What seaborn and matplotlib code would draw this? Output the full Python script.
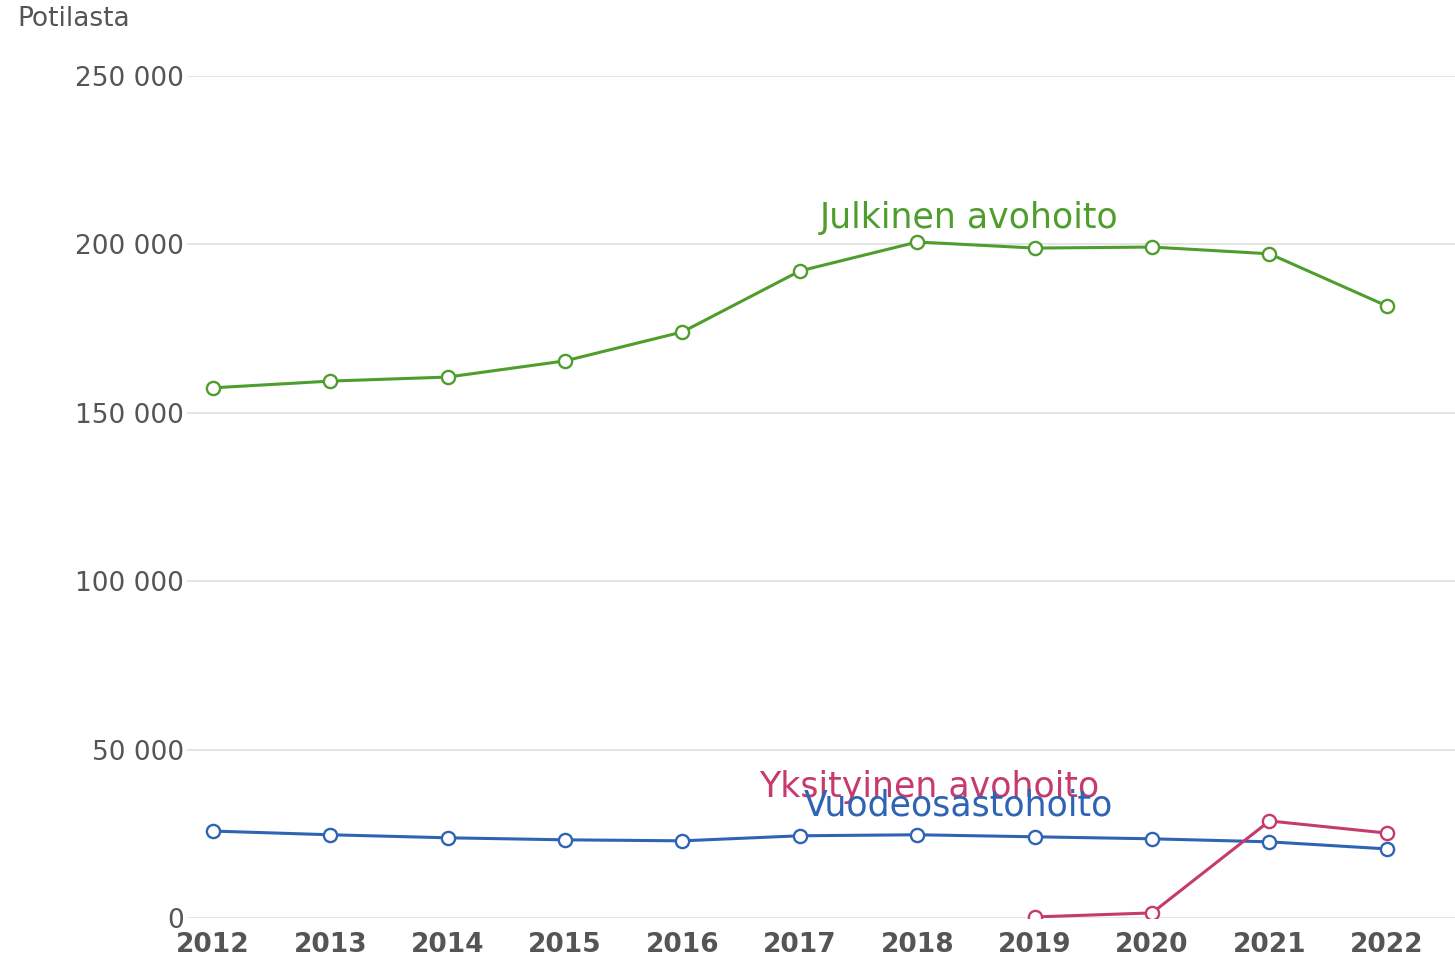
import pandas as pd
import matplotlib
matplotlib.use("Agg")
import matplotlib.pyplot as plt
import matplotlib.ticker as mticker
import seaborn as sns

# Data
years = list(range(2012, 2023))
julkinen = [157400, 159400, 160600, 165400, 174000, 192100, 200700, 198900, 199200, 197200, 181700]
vuodeosasto = [25800, 24700, 23800, 23200, 22900, 24400, 24700, 24100, 23500, 22600, 20500]
yks_years = [2019, 2020, 2021, 2022]
yksityinen = [300, 1500, 28800, 25200]

series_names = ["Julkinen avohoito", "Vuodeosastohoito", "Yksityinen avohoito"]
COLORS = {"Julkinen avohoito": "#4f9d2d",
          "Vuodeosastohoito": "#2f63b3",
          "Yksityinen avohoito": "#c63a6e"}

df = pd.concat([
    pd.DataFrame({"Vuosi": years, "Potilaat": julkinen, "Sarja": series_names[0]}),
    pd.DataFrame({"Vuosi": years, "Potilaat": vuodeosasto, "Sarja": series_names[1]}),
    pd.DataFrame({"Vuosi": yks_years, "Potilaat": yksityinen, "Sarja": series_names[2]}),
])

sns.set_theme(style="white")
plt.rcParams["font.family"] = ["DejaVu Sans"]

fig = plt.figure(figsize=(14.55, 9.58), dpi=100)
ax = fig.add_axes([0.1285, 0.0418, 0.8715, 0.8789])

for name in series_names:
    sub = df[df["Sarja"] == name]
    sns.lineplot(data=sub, x="Vuosi", y="Potilaat", color=COLORS[name],
                 linewidth=2.2, marker="o", markersize=9.5,
                 markerfacecolor="white", markeredgecolor=COLORS[name],
                 markeredgewidth=1.7, ax=ax, legend=False, zorder=3)

# series labels placed in data coordinates
ax.text(2018.44, 207800, "Julkinen avohoito", color=COLORS["Julkinen avohoito"],
        fontsize=25, ha="center", va="center")
ax.text(2018.1, 39000, "Yksityinen avohoito", color=COLORS["Yksityinen avohoito"],
        fontsize=25, ha="center", va="center", zorder=4)
ax.text(2018.35, 33300, "Vuodeosastohoito", color=COLORS["Vuodeosastohoito"],
        fontsize=25, ha="center", va="center", zorder=4)

ax.set_xlim(2011.78, 2022.58)
ax.set_ylim(0, 250000)
ax.set_xticks(years)
ax.set_yticks([0, 50000, 100000, 150000, 200000, 250000])
ax.yaxis.set_major_formatter(
    mticker.FuncFormatter(lambda v, p: f"{int(v):,}".replace(",", " ")))

ax.grid(axis="y", color="#e3e3e3", linewidth=1.3)
ax.grid(axis="x", visible=False)
for s in ax.spines.values():
    s.set_visible(False)

ax.tick_params(axis="y", length=0, pad=2, labelsize=19, labelcolor="#555555")
ax.tick_params(axis="x", length=0, pad=10, labelsize=19, labelcolor="#555555")
for lbl in ax.get_xticklabels():
    lbl.set_fontweight("bold")

ax.set_xlabel("")
ax.set_ylabel("")
fig.text(0.0117, 0.98, "Potilasta", fontsize=19, color="#555555", ha="left", va="center")

plt.savefig("out.png", dpi=100)
plt.close()
